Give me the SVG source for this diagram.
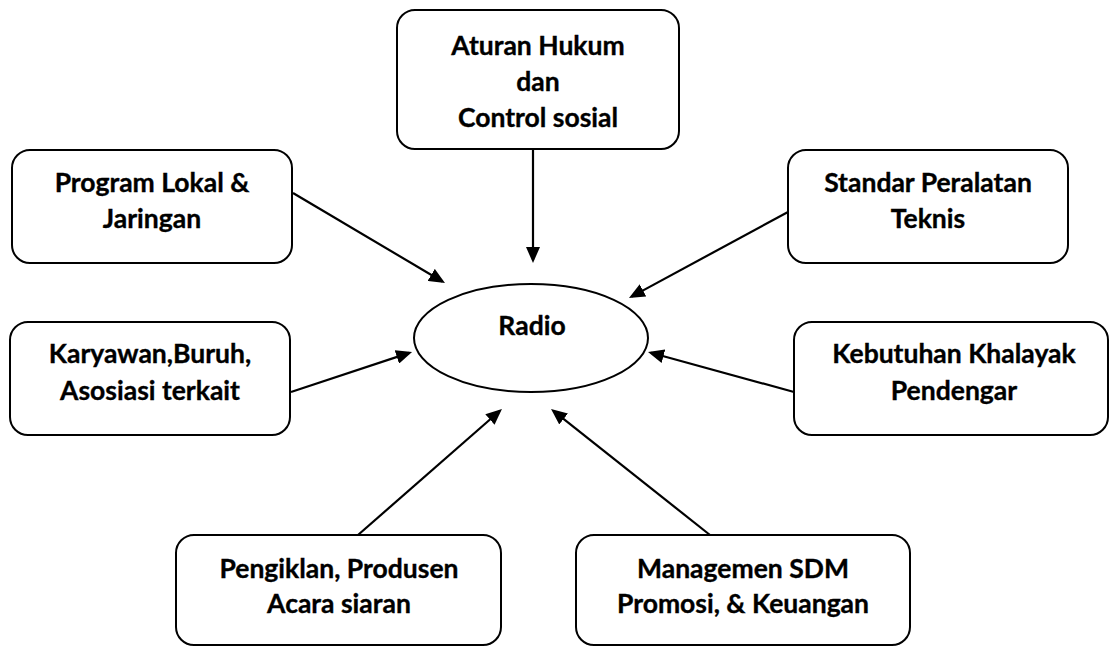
<svg xmlns="http://www.w3.org/2000/svg" width="1110" height="646" viewBox="0 0 1110 646">
  <style>
    .box { fill: #ffffff; stroke: #000000; stroke-width: 2; }
    .lbl { font-family: Lato, "Open Sans", "Liberation Sans", sans-serif; font-weight: 700; font-size: 26.5px; fill: #000000; stroke: #000000; stroke-width: 0.35px; text-anchor: middle; }
    .conn { stroke: #000000; stroke-width: 2.2; fill: none; marker-end: url(#arrow); }
  </style>
  <defs>
    <marker id="arrow" viewBox="0 0 16 14" refX="13" refY="7" markerWidth="16" markerHeight="14" markerUnits="userSpaceOnUse" orient="auto">
      <path d="M0,0 L16,7 L0,14 Z" fill="#000000"/>
    </marker>
  </defs>
  <rect width="1110" height="646" fill="#ffffff"/>

  <g id="connectors">
    <line class="conn" x1="533" y1="149" x2="533" y2="260"/>
    <line class="conn" x1="293" y1="193" x2="442.4" y2="281.5"/>
    <line class="conn" x1="788" y1="212" x2="631.6" y2="296.6"/>
    <line class="conn" x1="291" y1="392" x2="409.2" y2="352.9"/>
    <line class="conn" x1="794" y1="392" x2="650.9" y2="352.8"/>
    <line class="conn" x1="358" y1="535" x2="499.7" y2="411.0"/>
    <line class="conn" x1="710" y1="535" x2="553.4" y2="410.9"/>
  </g>

  <g id="node-radio">
    <ellipse class="box" cx="531" cy="338" rx="117" ry="54"/>
    <text class="lbl" x="532" y="335">Radio</text>
  </g>

  <g id="node-aturan">
    <rect class="box" x="397" y="10" width="282" height="139" rx="18" ry="18"/>
    <text class="lbl" x="538" y="55">Aturan Hukum</text>
    <text class="lbl" x="538" y="91">dan</text>
    <text class="lbl" x="538" y="127">Control sosial</text>
  </g>

  <g id="node-program">
    <rect class="box" x="12" y="150" width="280" height="113" rx="18" ry="18"/>
    <text class="lbl" x="152" y="192">Program Lokal &amp;</text>
    <text class="lbl" x="152" y="228">Jaringan</text>
  </g>

  <g id="node-standar">
    <rect class="box" x="788" y="150" width="280" height="113" rx="18" ry="18"/>
    <text class="lbl" x="928" y="192">Standar Peralatan</text>
    <text class="lbl" x="928" y="228">Teknis</text>
  </g>

  <g id="node-karyawan">
    <rect class="box" x="10" y="322" width="280" height="113" rx="18" ry="18"/>
    <text class="lbl" x="150" y="363">Karyawan,Buruh,</text>
    <text class="lbl" x="150" y="400">Asosiasi terkait</text>
  </g>

  <g id="node-kebutuhan">
    <rect class="box" x="794" y="322" width="314" height="113" rx="18" ry="18"/>
    <text class="lbl" x="954" y="363">Kebutuhan Khalayak</text>
    <text class="lbl" x="954" y="400">Pendengar</text>
  </g>

  <g id="node-pengiklan">
    <rect class="box" x="176" y="535" width="325" height="110" rx="18" ry="18"/>
    <text class="lbl" x="339" y="578">Pengiklan, Produsen</text>
    <text class="lbl" x="339" y="613">Acara siaran</text>
  </g>

  <g id="node-managemen">
    <rect class="box" x="576" y="535" width="334" height="110" rx="18" ry="18"/>
    <text class="lbl" x="743" y="578">Managemen SDM</text>
    <text class="lbl" x="743" y="613">Promosi, &amp; Keuangan</text>
  </g>
</svg>
